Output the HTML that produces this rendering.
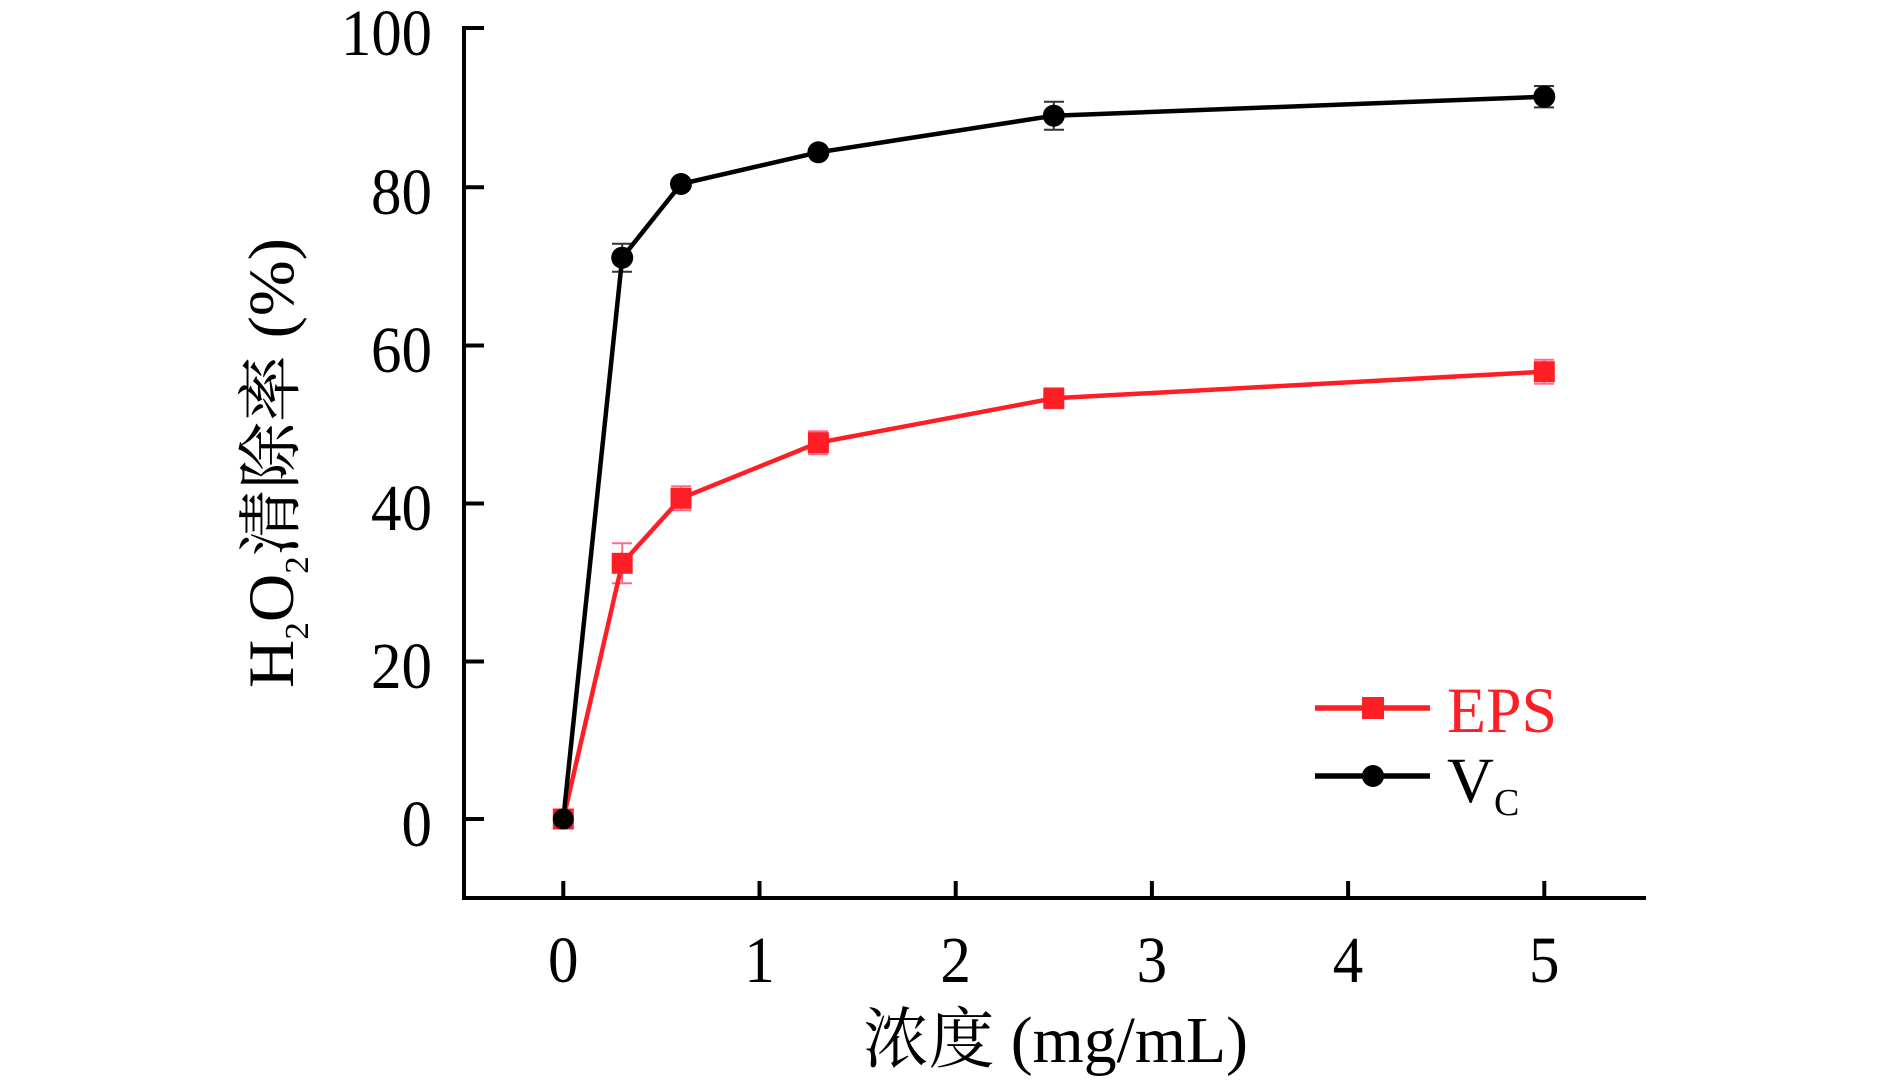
<!DOCTYPE html>
<html>
<head>
<meta charset="utf-8">
<style>
html,body{margin:0;padding:0;background:#fff;}
svg{display:block;}
text{font-family:"Liberation Serif","Noto Serif CJK SC",serif;}
</style>
</head>
<body>
<svg width="1890" height="1082" viewBox="0 0 1890 1082" xmlns="http://www.w3.org/2000/svg">
  <rect width="1890" height="1082" fill="#fff"/>
  <!-- axes -->
  <g stroke="#000" stroke-width="4" fill="none">
    <line x1="464" y1="26" x2="464" y2="900"/>
    <line x1="462" y1="898" x2="1646" y2="898"/>
    <!-- y ticks -->
    <line x1="464" y1="28" x2="484" y2="28"/>
    <line x1="464" y1="187.2" x2="484" y2="187.2"/>
    <line x1="464" y1="345.5" x2="484" y2="345.5"/>
    <line x1="464" y1="503.5" x2="484" y2="503.5"/>
    <line x1="464" y1="661.5" x2="484" y2="661.5"/>
    <line x1="464" y1="819" x2="484" y2="819"/>
    <!-- x ticks -->
    <line x1="563.3" y1="881" x2="563.3" y2="898"/>
    <line x1="759.5" y1="881" x2="759.5" y2="898"/>
    <line x1="955.7" y1="881" x2="955.7" y2="898"/>
    <line x1="1151.9" y1="881" x2="1151.9" y2="898"/>
    <line x1="1348.1" y1="881" x2="1348.1" y2="898"/>
    <line x1="1544.3" y1="881" x2="1544.3" y2="898"/>
  </g>
  <!-- y tick labels -->
  <g font-size="66" fill="#000">
    <text x="341" y="55" textLength="91" lengthAdjust="spacingAndGlyphs">100</text>
    <text x="371" y="214" textLength="61" lengthAdjust="spacingAndGlyphs">80</text>
    <text x="371" y="372" textLength="61" lengthAdjust="spacingAndGlyphs">60</text>
    <text x="371" y="530" textLength="61" lengthAdjust="spacingAndGlyphs">40</text>
    <text x="371" y="688" textLength="61" lengthAdjust="spacingAndGlyphs">20</text>
    <text x="401.5" y="846" textLength="30.5" lengthAdjust="spacingAndGlyphs">0</text>
  </g>
  <!-- x tick labels -->
  <g font-size="66" fill="#000">
    <text x="548" y="982" textLength="30.5" lengthAdjust="spacingAndGlyphs">0</text>
    <text x="744.2" y="982" textLength="30.5" lengthAdjust="spacingAndGlyphs">1</text>
    <text x="940.4" y="982" textLength="30.5" lengthAdjust="spacingAndGlyphs">2</text>
    <text x="1136.6" y="982" textLength="30.5" lengthAdjust="spacingAndGlyphs">3</text>
    <text x="1332.8" y="982" textLength="30.5" lengthAdjust="spacingAndGlyphs">4</text>
    <text x="1529" y="982" textLength="30.5" lengthAdjust="spacingAndGlyphs">5</text>
  </g>
  <!-- x title -->
  <text x="863" y="1062" font-size="66" textLength="385" lengthAdjust="spacingAndGlyphs">浓度 (mg/mL)</text>
  <!-- y title -->
  <text transform="translate(293,688) rotate(-90)" font-size="65" textLength="450" lengthAdjust="spacingAndGlyphs">H<tspan font-size="34" dy="15">2</tspan><tspan dy="-15">O</tspan><tspan font-size="34" dy="15">2</tspan><tspan dy="-15">清除率 (%)</tspan></text>

  <!-- EPS series (red) -->
  <g stroke="#ff6b8a" stroke-width="2">
    <line x1="622.2" y1="543.3" x2="622.2" y2="583.3"/>
    <line x1="612" y1="543.3" x2="632" y2="543.3"/>
    <line x1="612" y1="583.3" x2="632" y2="583.3"/>
    <line x1="681" y1="486.3" x2="681" y2="510.3"/>
    <line x1="671" y1="486.3" x2="691" y2="486.3"/>
    <line x1="671" y1="510.3" x2="691" y2="510.3"/>
    <line x1="818.4" y1="431.2" x2="818.4" y2="454.2"/>
    <line x1="808" y1="431.2" x2="828" y2="431.2"/>
    <line x1="808" y1="454.2" x2="828" y2="454.2"/>
    <line x1="1053.8" y1="388.3" x2="1053.8" y2="408.3"/>
    <line x1="1044" y1="388.3" x2="1064" y2="388.3"/>
    <line x1="1044" y1="408.3" x2="1064" y2="408.3"/>
    <line x1="1544.3" y1="359.7" x2="1544.3" y2="383.7"/>
    <line x1="1534" y1="359.7" x2="1554" y2="359.7"/>
    <line x1="1534" y1="383.7" x2="1554" y2="383.7"/>
  </g>
  <polyline points="563.3,819 622.2,563.3 681,498.3 818.4,442.7 1053.8,398.3 1544.3,371.7" fill="none" stroke="#fe1e26" stroke-width="4.5" stroke-linejoin="round"/>
  <g fill="#fe1e26">
    <rect x="552.8" y="808.5" width="21" height="21"/>
    <rect x="611.7" y="552.8" width="21" height="21"/>
    <rect x="670.5" y="487.8" width="21" height="21"/>
    <rect x="807.9" y="432.2" width="21" height="21"/>
    <rect x="1043.3" y="387.8" width="21" height="21"/>
    <rect x="1533.8" y="361.2" width="21" height="21"/>
  </g>

  <!-- Vc series (black) -->
  <g stroke="#333" stroke-width="2">
    <line x1="622.2" y1="243.7" x2="622.2" y2="271.7"/>
    <line x1="612" y1="243.7" x2="632" y2="243.7"/>
    <line x1="612" y1="271.7" x2="632" y2="271.7"/>
    <line x1="1053.8" y1="101.7" x2="1053.8" y2="129.7"/>
    <line x1="1044" y1="101.7" x2="1064" y2="101.7"/>
    <line x1="1044" y1="129.7" x2="1064" y2="129.7"/>
    <line x1="1544.3" y1="86" x2="1544.3" y2="107.4"/>
    <line x1="1534" y1="86" x2="1554" y2="86"/>
    <line x1="1534" y1="107.4" x2="1554" y2="107.4"/>
  </g>
  <polyline points="563.3,819 622.2,257.7 681,184 818.4,152.3 1053.8,115.7 1544.3,96.7" fill="none" stroke="#000" stroke-width="4.5" stroke-linejoin="round"/>
  <g fill="#000">
    <circle cx="563.3" cy="819" r="10.5"/>
    <circle cx="622.2" cy="257.7" r="11"/>
    <circle cx="681" cy="184" r="11"/>
    <circle cx="818.4" cy="152.3" r="11"/>
    <circle cx="1053.8" cy="115.7" r="11"/>
    <circle cx="1544.3" cy="96.7" r="11"/>
  </g>

  <!-- legend -->
  <line x1="1315" y1="708" x2="1430" y2="708" stroke="#fe1e26" stroke-width="5.5"/>
  <rect x="1362" y="697" width="22" height="22" fill="#fe1e26"/>
  <text x="1447" y="732" font-size="65" fill="#fe1e26" textLength="110" lengthAdjust="spacingAndGlyphs">EPS</text>
  <line x1="1315" y1="776" x2="1430" y2="776" stroke="#000" stroke-width="5.5"/>
  <circle cx="1373" cy="776" r="11" fill="#000"/>
  <text x="1447" y="802" font-size="65" fill="#000">V<tspan font-size="38" dy="13">C</tspan></text>
</svg>
</body>
</html>
